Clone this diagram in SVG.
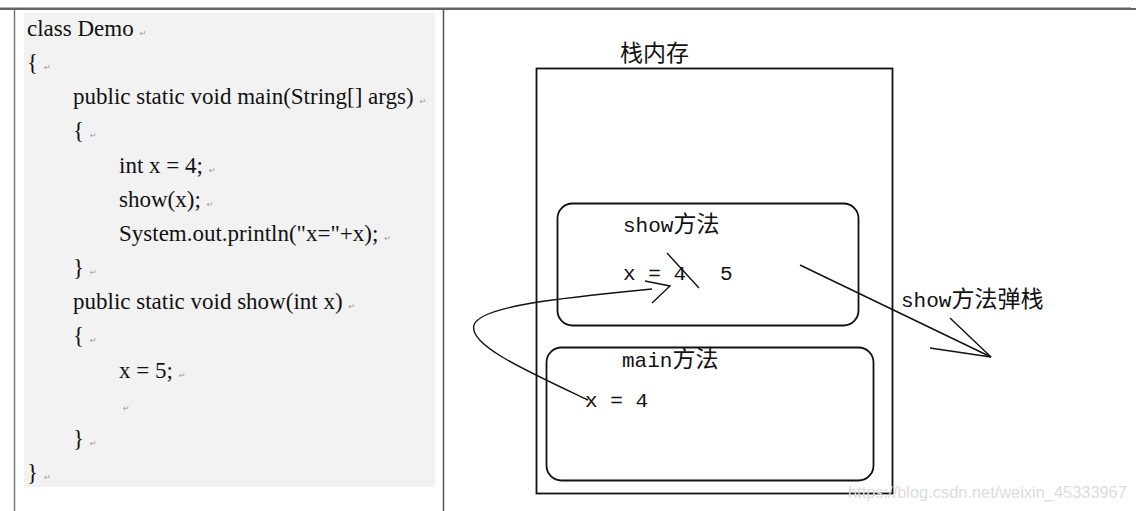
<svg xmlns="http://www.w3.org/2000/svg" width="1136" height="511" viewBox="0 0 1136 511">
<defs>
<style>
.code{font-family:"Liberation Serif","Times New Roman",serif;font-size:23px;fill:#111}
.m{font-family:"DejaVu Sans",sans-serif;font-size:8px;fill:#999}
.mono{font-family:"Liberation Mono","Noto Sans CJK SC",monospace;font-size:21px;fill:#111}
.cjk{font-family:"Noto Sans CJK SC",sans-serif;font-size:23px}
.ln{fill:none;stroke:#111;stroke-width:1.4}
.box{fill:none;stroke:#111;stroke-width:1.8}
</style>
</defs>
<rect x="0" y="0" width="1136" height="511" fill="#fff"/>
<g id="frame">
<rect x="0" y="7" width="1131" height="1" fill="#b0b0b0"/>
<rect x="0" y="8" width="1136" height="2" fill="#666"/>
<line x1="14.5" y1="10" x2="14.5" y2="511" stroke="#777" stroke-width="1.5"/>
<line x1="443.5" y1="10" x2="443.5" y2="511" stroke="#555" stroke-width="1.5"/>
<rect x="24" y="13" width="411" height="474" fill="#f2f2f2"/>
</g>
<g id="code">
<text class="code" x="27" y="36">class Demo<tspan class="m" dx="6">↵</tspan></text>
<text class="code" x="27" y="70">{<tspan class="m" dx="6">↵</tspan></text>
<text class="code" x="73" y="104">public static void main(String[] args)<tspan class="m" dx="6">↵</tspan></text>
<text class="code" x="73" y="138">{<tspan class="m" dx="6">↵</tspan></text>
<text class="code" x="119" y="173">int x = 4;<tspan class="m" dx="6">↵</tspan></text>
<text class="code" x="119" y="207">show(x);<tspan class="m" dx="6">↵</tspan></text>
<text class="code" x="119" y="241">System.out.println("x="+x);<tspan class="m" dx="6">↵</tspan></text>
<text class="code" x="73" y="275">}<tspan class="m" dx="6">↵</tspan></text>
<text class="code" x="73" y="309">public static void show(int x)<tspan class="m" dx="6">↵</tspan></text>
<text class="code" x="73" y="343">{<tspan class="m" dx="6">↵</tspan></text>
<text class="code" x="119" y="378">x = 5;<tspan class="m" dx="6">↵</tspan></text>
<text class="m" x="123" y="411">↵</text>
<text class="code" x="73" y="446">}<tspan class="m" dx="6">↵</tspan></text>
<text class="code" x="27" y="480">}<tspan class="m" dx="6">↵</tspan></text>
</g>
<g id="stack">
<text class="mono" x="620" y="61"><tspan class="cjk">栈内存</tspan></text>
<rect class="box" x="536.5" y="68.5" width="356" height="425"/>
</g>
<g id="show-frame">
<rect class="box" x="557.5" y="203.5" width="301" height="122" rx="15"/>
<text class="mono" x="623" y="232">show<tspan class="cjk">方法</tspan></text>
<text class="mono" x="623" y="280">x = 4</text>
<text class="mono" x="720" y="280">5</text>
</g>
<g id="main-frame">
<rect class="box" x="546.5" y="347.5" width="327" height="133" rx="15"/>
<text class="mono" x="622" y="367">main<tspan class="cjk">方法</tspan></text>
<text class="mono" x="585" y="407">x = 4</text>
</g>
<g id="label-pop">
<text class="mono" x="901" y="307">show<tspan class="cjk">方法弹栈</tspan></text>
</g>
<g id="connectors">
<line class="ln" x1="667" y1="253" x2="699" y2="288"/>
<path class="ln" d="M588 400 C525 370 468 345 474 325 C480 306 560 298 652 289"/>
<polyline class="ln" points="645,281 670,286 652,303"/>
<line class="ln" x1="800" y1="265" x2="991" y2="357"/>
<line class="ln" x1="950" y1="318" x2="991" y2="357"/>
<line class="ln" x1="930" y1="348" x2="991" y2="357"/>
</g>
<text x="848" y="498" font-family="Liberation Sans, Arial, sans-serif" font-size="16.4" fill="#dcdcdc">https://blog.csdn.net/weixin_45333967</text>
</svg>
